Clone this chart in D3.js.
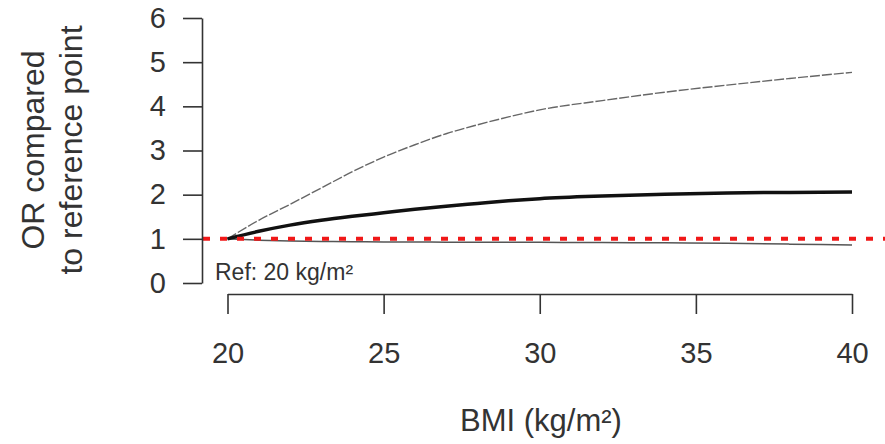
<!DOCTYPE html>
<html>
<head>
<meta charset="utf-8">
<script src="https://cdn.jsdelivr.net/npm/d3@7"></script>
<style>
body { margin: 0; background: #fff; }
text { font-family: "Liberation Sans", Arial, sans-serif; fill: #333; }
.axis path, .axis line { stroke: #333; stroke-width: 1.6px; }
</style>
</head>
<body>
<svg></svg>
<script>
var width = 885, height = 444;
var svg = d3.select("svg").attr("width", width).attr("height", height);

// BMI grid and odds ratios
var bmi      = [20, 21, 22, 23, 24, 25, 26, 27, 28, 29, 30, 32, 34, 36, 38, 40];
var orMid    = [1.0, 1.17, 1.31, 1.42, 1.51, 1.59, 1.67, 1.74, 1.80, 1.86, 1.91, 1.97, 2.01, 2.04, 2.05, 2.06];
var orUpper  = [1.0, 1.42, 1.78, 2.15, 2.52, 2.85, 3.13, 3.38, 3.58, 3.76, 3.92, 4.13, 4.32, 4.48, 4.63, 4.77];
var orLower  = [1.0, 0.97, 0.95, 0.94, 0.935, 0.93, 0.93, 0.925, 0.925, 0.92, 0.92, 0.915, 0.91, 0.90, 0.88, 0.86];
var xTicks = [20, 25, 30, 35, 40];
var yTicks = [0, 1, 2, 3, 4, 5, 6];
var refValue = 1;

var x = d3.scaleLinear().domain([20, 40]).range([227.5, 852]);
var y = d3.scaleLinear().domain([0, 6]).range([283, 18]);

var line = function (vals) {
    return d3.line()
        .x(function (d, i) { return x(bmi[i]); })
        .y(function (d) { return y(d); })
        .curve(d3.curveMonotoneX)(vals);
};

// confidence bounds
svg.append("path").attr("d", line(orUpper))
    .attr("fill", "none").attr("stroke", "#666").attr("stroke-width", 1.4)
    .attr("stroke-dasharray", "10,2");
svg.append("path").attr("d", line(orLower))
    .attr("fill", "none").attr("stroke", "#555").attr("stroke-width", 1.5);
// estimate
svg.append("path").attr("d", line(orMid))
    .attr("fill", "none").attr("stroke", "#111").attr("stroke-width", 3.5);

// reference line
svg.append("line")
    .attr("x1", 203).attr("x2", width)
    .attr("y1", y(refValue)).attr("y2", y(refValue))
    .attr("stroke", "#f01818").attr("stroke-width", 4)
    .attr("stroke-dasharray", "7,10");

// axes
var yAxis = svg.append("g").attr("class", "axis")
    .attr("transform", "translate(202,0)")
    .call(d3.axisLeft(y).tickValues(yTicks).tickFormat(d3.format("d"))
        .tickSize(19).tickSizeOuter(0).tickPadding(17));
yAxis.selectAll("text").style("font-size", "29px").attr("fill", "#333");

var xAxis = svg.append("g").attr("class", "axis")
    .attr("transform", "translate(0,294)")
    .call(d3.axisBottom(x).tickValues(xTicks).tickFormat(d3.format("d"))
        .tickSize(20).tickSizeOuter(0).tickPadding(28));
xAxis.selectAll("text").style("font-size", "29px").attr("fill", "#333");

// labels
svg.append("text")
    .attr("x", 541).attr("y", 431)
    .attr("text-anchor", "middle")
    .style("font-size", "31px")
    .text("BMI (kg/m²)");

var ylab = svg.append("g").attr("transform", "translate(0,150) rotate(-90)");
ylab.append("text").attr("x", 0).attr("y", 44)
    .attr("text-anchor", "middle").style("font-size", "32px")
    .text("OR compared");
ylab.append("text").attr("x", 0).attr("y", 82)
    .attr("text-anchor", "middle").style("font-size", "32px")
    .text("to reference point");

svg.append("text")
    .attr("x", 215).attr("y", 280)
    .style("font-size", "23px")
    .text("Ref: 20 kg/m²");
</script>
</body>
</html>
